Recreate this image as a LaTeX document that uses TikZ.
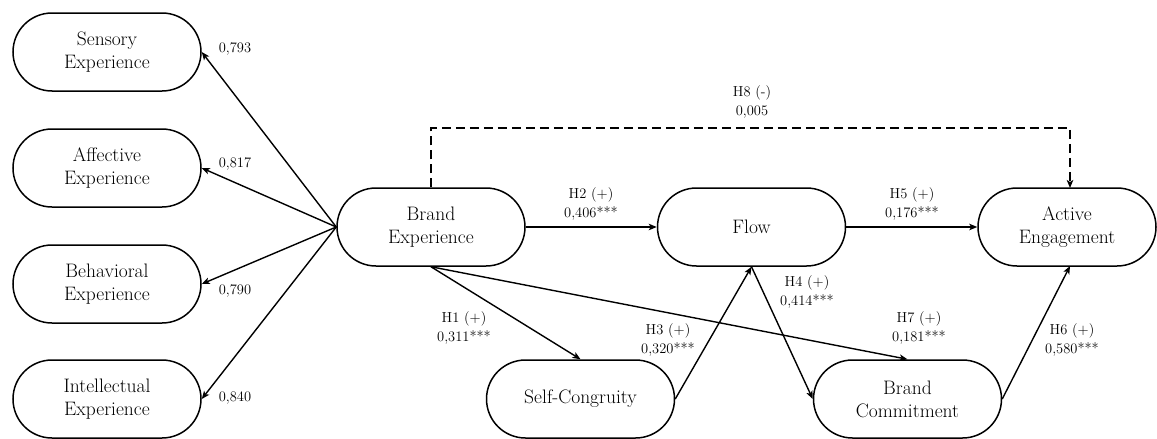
\documentclass[tikz,border=0pt]{standalone}
\usetikzlibrary{shapes.misc,arrows.meta,calc}
\begin{document}
\begin{tikzpicture}[x=1pt,y=-1pt,
  box/.style={draw,line width=1.5pt,rounded rectangle,minimum width=188pt,minimum height=78pt,
    align=center,font=\fontsize{19.5}{23}\selectfont,inner sep=0pt},
  link/.style={line width=1.4pt,-{Stealth[length=8pt,width=6.5pt,inset=2pt]}},
  lab/.style={font=\fontsize{14.5}{18.5}\selectfont,align=center,inner sep=0pt}]
\useasboundingbox (0,0) rectangle (1157,439);
\node[box] (se) at (107,52) {Sensory\\Experience};
\node[box] (ae1) at (107,168) {Affective\\Experience};
\node[box] (be1) at (107,284) {Behavioral\\Experience};
\node[box] (ie) at (107,399) {Intellectual\\Experience};
\node[box] (be) at (431,227) {Brand\\Experience};
\node[box] (fl) at (751.5,227) {Flow};
\node[box,minimum width=178pt] (ae) at (1067,227) {Active\\Engagement};
\node[box] (sc) at (580.5,399) {Self-Congruity};
\node[box] (bc) at (907.5,399) {Brand\\Commitment};

\draw[link] (be.west) -- (se.east);
\draw[link] (be.west) -- (ae1.east);
\draw[link] (be.west) -- (be1.east);
\draw[link] (be.west) -- (ie.east);
\node[lab] (l1) at (235,49) {0,793};
\node[lab] (l2) at (235,164) {0,817};
\node[lab] (l3) at (235,291) {0,790};
\node[lab] (l4) at (235,398) {0,840};

\draw[link] (be.east) -- (fl.west);
\node[lab] (h2) at (591,204) {H2 (+)\\0,406***};
\draw[link] (fl.east) -- (ae.west);
\node[lab] (h5) at (912,204) {H5 (+)\\0,176***};

\coordinate (c1) at (431,128);
\coordinate (c2) at (1070,128);
\draw[link,dashed,dash pattern=on 9pt off 5pt] (be.north) -- (c1) -- (c2) -- (1070,188);
\node[lab] (h8) at (752,102) {H8 (-)\\0,005};

\draw[link] (be.south) -- (sc.north);
\node[lab] (h1) at (464,328) {H1 (+)\\0,311***};
\draw[link] (be.south) -- (bc.north);
\node[lab] (h7) at (919,328) {H7 (+)\\0,181***};
\draw[link] (sc.east) -- (fl.south);
\node[lab] (h3) at (668,340) {H3 (+)\\0,320***};
\draw[link] (fl.south) -- (bc.west);
\node[lab] (h4) at (807,292) {H4 (+)\\0,414***};
\draw[link] (bc.east) -- (1070,266);
\node[lab] (h6) at (1072,340) {H6 (+)\\0,580***};
\end{tikzpicture}
\end{document}
